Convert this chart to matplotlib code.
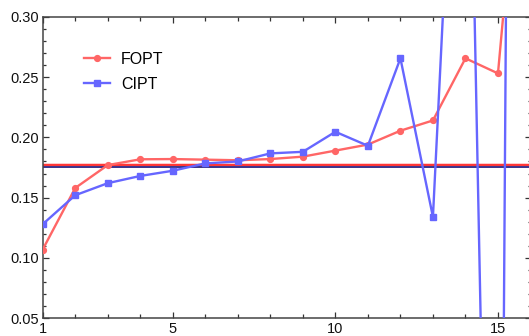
import matplotlib
matplotlib.use("Agg")
import matplotlib.pyplot as plt
from matplotlib.ticker import MultipleLocator, FixedLocator

plt.rcParams['font.family'] = ['Liberation Sans', 'DejaVu Sans']

# Perturbative orders
orders = [1, 2, 3, 4, 5, 6, 7, 8, 9, 10, 11, 12, 13, 14, 15, 16]

# Fixed-order perturbation theory
fopt = [0.107, 0.158, 0.177, 0.1818, 0.182, 0.1815, 0.181, 0.182,
        0.184, 0.189, 0.194, 0.2055, 0.214, 0.2655, 0.253, 0.55]

# Contour-improved perturbation theory
cipt = [0.128, 0.152, 0.162, 0.168, 0.1723, 0.1784, 0.180, 0.1867,
        0.188, 0.2046, 0.193, 0.2655, 0.134, 0.68, -0.67, 3.3]

# Reference value with its band
ref_value = 0.1768
ref_band = (0.1745, 0.1787)
ref_value_alt = 0.1756

x_ticks = [1, 5, 10, 15]
x_ticklabels = ["1", "5", "10", "15"]
y_ticks = [0.05, 0.10, 0.15, 0.20, 0.25, 0.30]
y_ticklabels = ["0.05", "0.10", "0.15", "0.20", "0.25", "0.30"]

W, H = 529, 336
fig = plt.figure(figsize=(W / 100, H / 100), dpi=100)
left, right, bottom, top = 42.7, 530.5, 318.3, 16.7
ax = fig.add_axes([left / W, (H - bottom) / H, (right - left) / W, (bottom - top) / H])

ax.axhspan(*ref_band, color="#ffcccc", lw=0, zorder=1)
ax.axhline(ref_value, color="#ff1a1a", lw=1.2, zorder=2)
ax.axhline(ref_value_alt, color="#1a1a80", lw=1.2, zorder=2)

ax.plot(orders, fopt, color="#ff6666", lw=1.7, marker="o", ms=4.2,
        label="FOPT", zorder=3)
ax.plot(orders, cipt, color="#6666ff", lw=1.7, marker="s", ms=4.6,
        label="CIPT", zorder=4)

ax.set_xlim(1, 16)
ax.set_ylim(0.05, 0.30)

ax.xaxis.set_major_locator(FixedLocator(x_ticks))
ax.set_xticklabels(x_ticklabels)
ax.xaxis.set_minor_locator(MultipleLocator(1))
ax.yaxis.set_major_locator(FixedLocator(y_ticks))
ax.set_yticklabels(y_ticklabels)
ax.yaxis.set_minor_locator(MultipleLocator(0.01))

ax.tick_params(which="both", direction="in", top=True, right=True,
               color="#333333", width=0.9, labelsize=10.5, labelcolor="#111111",
               pad=3)
ax.tick_params(which="major", length=4)
ax.tick_params(which="minor", length=2.5)
ax.tick_params(axis="x", which="minor", length=3.2)

for s in ax.spines.values():
    s.set_color("#444444")
    s.set_linewidth(1.1)

ax.legend(loc="upper left", bbox_to_anchor=(0.072, 0.905), frameon=False,
          fontsize=11.5, handlelength=1.6, handletextpad=0.7,
          labelspacing=0.62, borderaxespad=0)

fig.savefig("out.png", dpi=100)
